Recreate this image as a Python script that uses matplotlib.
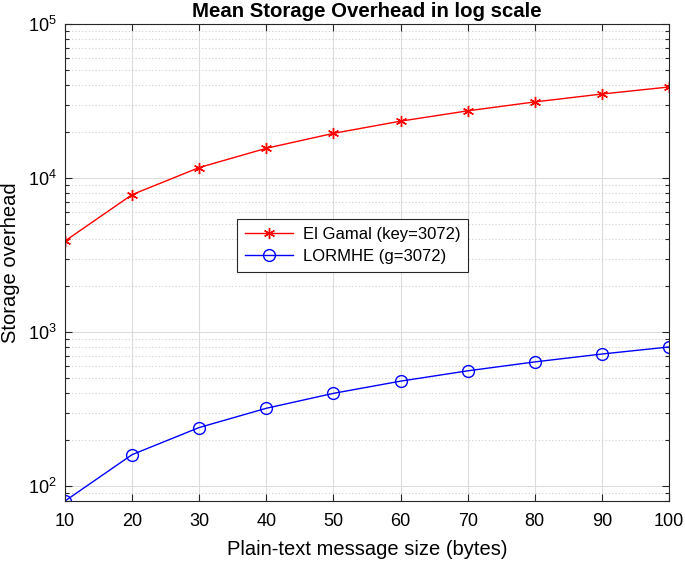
import matplotlib
matplotlib.use("Agg")
import matplotlib.pyplot as plt
from matplotlib.ticker import LogLocator, FixedLocator, NullFormatter

plt.rcParams['font.family'] = ['Liberation Sans', 'DejaVu Sans']
plt.rcParams['mathtext.fontset'] = 'custom'
plt.rcParams['mathtext.rm'] = 'Liberation Sans'
plt.rcParams['mathtext.it'] = 'Liberation Sans:italic'

msg_size = [10, 20, 30, 40, 50, 60, 70, 80, 90, 100]
elgamal = [3900, 7800, 11700, 15600, 19500, 23400, 27300, 31200, 35100, 39000]
lormhe = [80, 160, 240, 320, 400, 480, 560, 640, 720, 800]
x_ticks = [10, 20, 30, 40, 50, 60, 70, 80, 90, 100]

fig = plt.figure(figsize=(6.85, 5.64), dpi=100)
ax = fig.add_axes([65/685, 63/564, 604/685, 477/564])

asterisk = (6, 2, 0)
ax.plot(msg_size, elgamal, color='#ff0000', lw=1.0, marker=asterisk,
        markersize=8, markeredgewidth=1.0, label='El Gamal (key=3072)')
ax.plot(msg_size, lormhe, color='#0000ff', lw=1.0, marker='o', markersize=8.5,
        markerfacecolor='none', markeredgewidth=1.0, label='LORMHE (g=3072)')

ax.set_yscale('log')
ax.set_xlim(10, 100)
ax.set_ylim(80, 1e5)
ax.xaxis.set_major_locator(FixedLocator(x_ticks))
ax.yaxis.set_major_locator(LogLocator(base=10, numticks=10))
ax.yaxis.set_minor_locator(LogLocator(base=10, subs=range(2, 10), numticks=20))
ax.yaxis.set_minor_formatter(NullFormatter())

ax.grid(True, which='major', color='#dcdcdc', lw=0.8, linestyle='-')
ax.grid(True, which='minor', axis='y', color='#cfcfcf', lw=0.8, linestyle=(0, (1, 2)))
ax.set_axisbelow(True)

ax.tick_params(which='both', direction='in', top=True, right=True, labelsize=13,
               color='#262626', width=0.8)
ax.tick_params(which='major', length=5)
ax.tick_params(which='minor', length=3)
ax.tick_params(axis='x', which='major', pad=9)
ax.tick_params(axis='y', which='major', pad=6)
for s in ax.spines.values():
    s.set_color('#262626')
    s.set_linewidth(0.8)

ax.set_xlabel('Plain-text message size (bytes)', fontsize=14.5, labelpad=7)
ax.set_ylabel('Storage overhead', fontsize=14.5, labelpad=6)
ax.set_title('Mean Storage Overhead in log scale', fontsize=14.7, fontweight='bold', pad=5)

leg = ax.legend(loc='upper left', bbox_to_anchor=(0.285, 0.591), fontsize=12,
                fancybox=False, edgecolor='#262626', framealpha=1,
                handlelength=2.9, handletextpad=0.6, borderpad=0.45,
                labelspacing=0.45, borderaxespad=0)
leg.get_frame().set_linewidth(0.8)

fig.savefig('out.png', dpi=100)
